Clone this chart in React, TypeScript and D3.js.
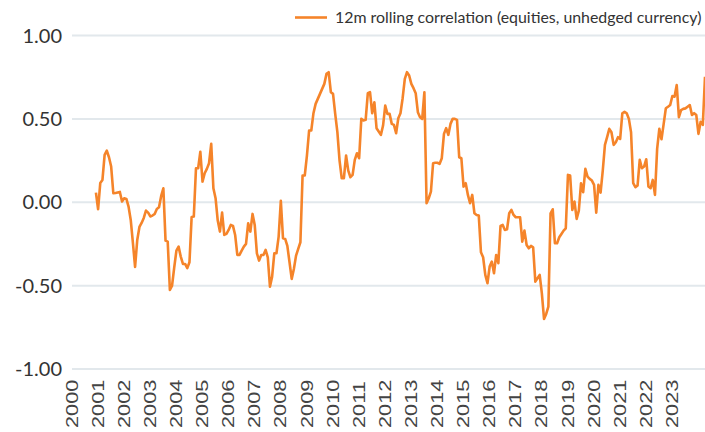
import React from "react";
import * as d3 from "d3";

// Monthly series: first value = Dec 2000 (month index 11 counted from Jan 2000)
const firstMonthIndex = 11;
const correlation: number[] = [
  0.058, -0.042, 0.116, 0.134, 0.284, 0.309, 0.27, 0.214, 0.054, 0.056, 0.059, 0.062, 0.004, 0.024, 0.02, -0.026,
  -0.106, -0.244, -0.388, -0.226, -0.148, -0.124, -0.094, -0.05, -0.062, -0.085, -0.08, -0.07, -0.04, -0.03, 0.038, 0.084,
  -0.23, -0.236, -0.526, -0.5, -0.39, -0.29, -0.266, -0.326, -0.37, -0.37, -0.395, -0.36, -0.088, -0.086, 0.204, 0.204,
  0.303, 0.124, 0.174, 0.2, 0.234, 0.35, 0.084, 0.024, -0.11, -0.176, -0.062, -0.196, -0.19, -0.166, -0.136, -0.142,
  -0.196, -0.316, -0.316, -0.29, -0.266, -0.25, -0.126, -0.176, -0.07, -0.136, -0.306, -0.35, -0.316, -0.316, -0.286, -0.33,
  -0.506, -0.446, -0.306, -0.306, -0.206, 0.008, -0.216, -0.22, -0.262, -0.36, -0.46, -0.4, -0.32, -0.28, -0.24, 0.16,
  0.16, 0.28, 0.43, 0.43, 0.534, 0.59, 0.62, 0.65, 0.68, 0.71, 0.77, 0.78, 0.66, 0.65, 0.53, 0.42,
  0.25, 0.144, 0.144, 0.28, 0.19, 0.15, 0.164, 0.254, 0.294, 0.264, 0.5, 0.49, 0.494, 0.654, 0.66, 0.534,
  0.6, 0.444, 0.424, 0.404, 0.46, 0.58, 0.53, 0.53, 0.47, 0.464, 0.414, 0.504, 0.534, 0.624, 0.74, 0.78,
  0.76, 0.71, 0.684, 0.654, 0.54, 0.51, 0.5, 0.66, -0.006, 0.024, 0.064, 0.234, 0.237, 0.237, 0.23, 0.264,
  0.41, 0.444, 0.404, 0.47, 0.5, 0.5, 0.494, 0.27, 0.264, 0.094, 0.114, 0.044, -0.006, 0.044, -0.066, -0.076,
  -0.08, -0.3, -0.33, -0.436, -0.486, -0.386, -0.356, -0.426, -0.316, -0.366, -0.142, -0.136, -0.166, -0.162, -0.066, -0.046,
  -0.076, -0.09, -0.09, -0.09, -0.236, -0.17, -0.256, -0.276, -0.262, -0.27, -0.476, -0.456, -0.436, -0.546, -0.7, -0.67,
  -0.626, -0.066, -0.042, -0.246, -0.246, -0.21, -0.19, -0.17, -0.156, 0.164, 0.16, -0.046, 0.004, -0.1, -0.05, 0.114,
  0.06, 0.2, 0.154, 0.14, 0.13, 0.104, -0.062, 0.104, 0.058, 0.19, 0.344, 0.39, 0.44, 0.42, 0.344, 0.36,
  0.39, 0.38, 0.534, 0.543, 0.534, 0.5, 0.42, 0.114, 0.09, 0.1, 0.254, 0.204, 0.214, 0.258, 0.094, 0.084,
  0.134, 0.044, 0.32, 0.44, 0.378, 0.47, 0.564, 0.573, 0.583, 0.637, 0.633, 0.703, 0.51, 0.553, 0.56, 0.563,
  0.573, 0.583, 0.523, 0.534, 0.523, 0.41, 0.483, 0.464, 0.753,
];
const years: number[] = d3.range(2000, 2024);
const yTicks: number[] = [1, 0.5, 0, -0.5, -1];
const seriesName = "12m rolling correlation (equities, unhedged currency)";

export default function App() {
  const W = 705;
  const H = 432;
  const lastIndex = firstMonthIndex + correlation.length - 1;
  const x = d3.scaleLinear().domain([0, lastIndex]).range([72, 705]);
  const y = d3.scaleLinear().domain([-1, 1]).range([369, 35.5]);
  const line = d3
    .line<number>()
    .x((_, i) => x(firstMonthIndex + i))
    .y((d) => y(d));
  const orange = "#f5842a";
  return (
    <svg
      width={W}
      height={H}
      style={{ position: "absolute", left: 0, top: 0, background: "#fff" }}
    >
      {yTicks.map((t) => (
        <g key={t}>
          <line x1={72} x2={705} y1={y(t)} y2={y(t)} stroke="#e2e8ec" strokeWidth={2} />
          <text
            x={62}
            y={y(t)}
            dy="0.35em"
            textAnchor="end"
            fontFamily="Lato"
            fontSize={20}
            fill="#333"
          >
            {t.toFixed(2)}
          </text>
        </g>
      ))}
      {years.map((yr) => (
        <text
          key={yr}
          transform={`translate(${x((yr - 2000) * 12)},428) rotate(-90) scale(1.36,1)`}
          dy="0.35em"
          textAnchor="start"
          fontFamily="Liberation Sans, Arial"
          fontSize={16}
          fill="#444"
        >
          {yr}
        </text>
      ))}
      <path d={line(correlation) ?? ""} fill="none" stroke={orange} strokeWidth={2.6} strokeLinejoin="round" />
      <line x1={295} x2={327} y1={17.5} y2={17.5} stroke={orange} strokeWidth={2.6} />
      <text x={335} y={17.5} dy="0.35em" fontFamily="Lato" fontSize={15.9} fill="#333">
        {seriesName}
      </text>
    </svg>
  );
}
